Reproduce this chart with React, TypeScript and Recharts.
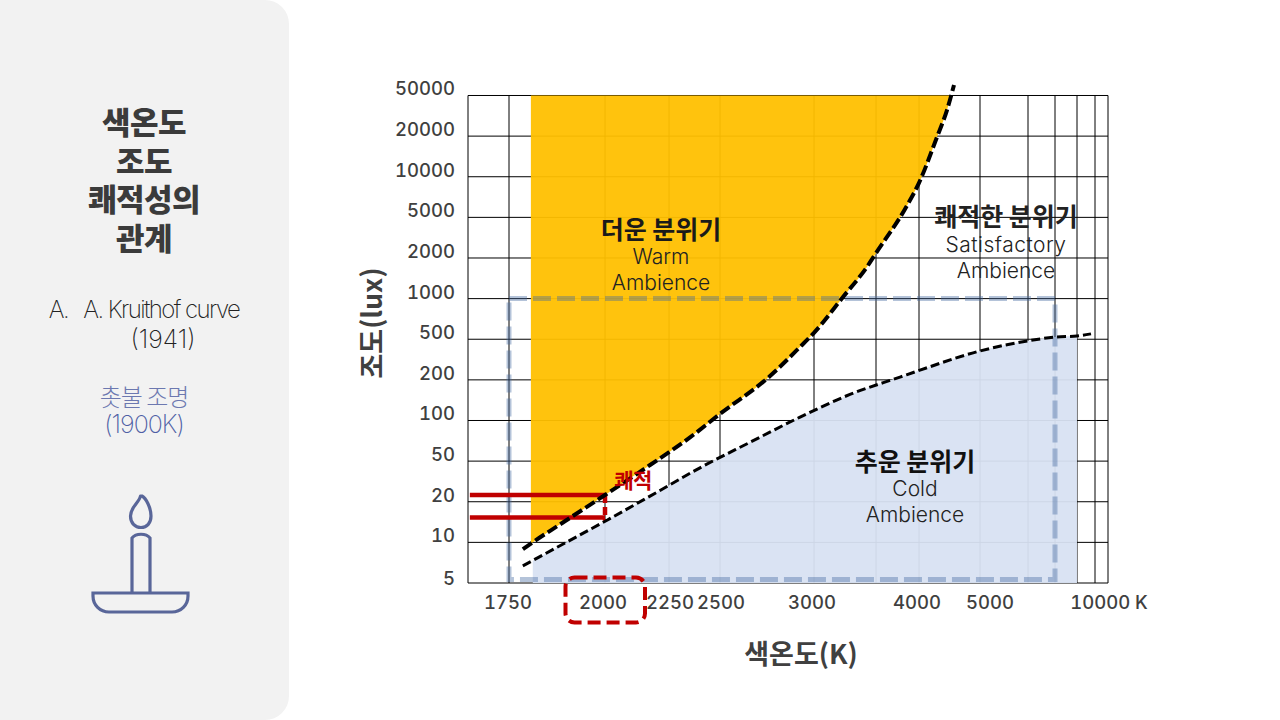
import React from 'react';
import { ComposedChart, Area, Line, XAxis, YAxis, ReferenceLine, ReferenceArea } from 'recharts';

// Axis values as printed /
const gridKelvin = [1640, 1750, 2000, 2250, 2500, 3000, 3500, 4000, 5000, 6000, 7000, 8000, 9000, 10000];
const gridColumns = [0, 41, 137, 201, 252, 346, 408, 451, 512, 560, 587, 609, 627, 640];
const gridLux = [5, 10, 20, 50, 100, 200, 500, 1000, 2000, 5000, 10000, 20000, 50000];
const xTickKelvin = [1750, 2000, 2250, 2500, 3000, 4000, 5000, 10000];
const xTickLabels = ['1750', '2000', '2250', '2500', '3000', '4000', '5000', '10000 K'];
const xTickShift = [-1, -2, 1, 1, -2, -2, 10, 1];

// Kruithof curves
const upperKelvin = [1786, 1807, 1883, 2000, 2176, 2353, 2500, 2766, 2926, 3000, 3234, 3427, 3500, 3860, 4000, 4295, 4459, 4574];
const upperLux = [8.9, 9.8, 13.6, 23.3, 45.8, 75, 112, 218, 421, 558, 1028, 1717, 2232, 6100, 9010, 19700, 36000, 63500];
const lowerKelvin = [1786, 1896, 2008, 2176, 2402, 2660, 2926, 3290, 3779, 4016, 5000, 6000, 7000, 8000, 8778];
const lowerLux = [6.7, 9.9, 14.6, 22.7, 43, 69, 106, 156, 213, 249, 384, 482, 519, 528, 548];

// Shaded regions
const warmKelvin = [1807, 1883, 2000, 2176, 2353, 2500, 2766, 2926, 3000, 3234, 3427, 3500, 3860, 4000, 4295, 4459, 4525];
const warmLux = [9.8, 13.6, 23.3, 45.8, 75, 112, 218, 421, 558, 1028, 1717, 2232, 6100, 9010, 19700, 36000, 50000];
const coldKelvin = [1812, 1896, 2008, 2176, 2402, 2660, 2926, 3290, 3779, 4016, 5000, 6000, 7000, 8000];
const coldLux = [7.3, 9.9, 14.6, 22.7, 43, 69, 106, 156, 213, 249, 384, 482, 519, 528];

// Annotations
const comfortBox = { k1: 1750, k2: 7000, lux1: 5.3, lux2: 1000 };
const redLux = [23.3, 15.3];
const redFromKelvin = 1645;
const redToKelvin = 2000;

const toX = (k: number) => {
  for (let i = 1; i < gridKelvin.length; i++) {
    if (k <= gridKelvin[i]) {
      const t = (k - gridKelvin[i - 1]) / (gridKelvin[i] - gridKelvin[i - 1]);
      return gridColumns[i - 1] + t * (gridColumns[i] - gridColumns[i - 1]);
    }
  }
  return gridColumns[gridColumns.length - 1];
};
const toY = (lux: number) => {
  const n = gridLux.length;
  for (let i = 1; i < n; i++) {
    if (lux <= gridLux[i] || i === n - 1) {
      return i - 1 + Math.log(lux / gridLux[i - 1]) / Math.log(gridLux[i] / gridLux[i - 1]);
    }
  }
  return n - 1;
};

const topRow = gridLux.length - 1;
const X_MAX = gridColumns[gridColumns.length - 1];
const Y_MAX = 12.3815;

const upperData = upperKelvin.map((k, i) => ({ x: toX(k), y: toY(upperLux[i]) }));
const lowerData = lowerKelvin.map((k, i) => ({ x: toX(k), y: toY(lowerLux[i]) }));
const warmData = warmKelvin.map((k, i) => ({ x: toX(k), band: [toY(warmLux[i]), topRow] }));
const coldData = coldKelvin.map((k, i) => ({ x: toX(k), band: [0, toY(coldLux[i])] }));

const AXIS_FONT = "Inter, 'Noto Sans', sans-serif";
const KR = "'Noto Sans CJK KR', sans-serif";
const LATIN = "Inter, 'Noto Sans', sans-serif";
const AXIS_COLOR = '#404040';

const XTick = ({ x, y, index }: any) => (
  <text x={x + xTickShift[index]} y={y + 11} textAnchor="middle" dominantBaseline="central" style={{ fontVariantNumeric: 'tabular-nums' }}
    fontFamily={AXIS_FONT} fontWeight={500} fontSize={18.5} fill={AXIS_COLOR}>{xTickLabels[index]}</text>
);
const YTick = ({ x, y, index }: any) => (
  <text x={455} y={y - (index === 0 ? 5 : 7)} textAnchor="end" dominantBaseline="central" style={{ fontVariantNumeric: 'tabular-nums' }}
    fontFamily={AXIS_FONT} fontWeight={500} fontSize={18.5} fill={AXIS_COLOR}>{gridLux[index]}</text>
);
const XTitle = () => (
  <text x={801} y={652} textAnchor="middle" dominantBaseline="central" fontFamily={KR} fontWeight={700} fontSize={27} fill={AXIS_COLOR}>색온도(K)</text>
);
const YTitle = () => (
  <text x={370} y={323} transform="rotate(-90 370 323)" textAnchor="middle" dominantBaseline="central" fontFamily={KR} fontWeight={700} fontSize={27} fill={AXIS_COLOR}>조도(lux)</text>
);

const T = ({ x, y, size, weight, color, font, ls, children }: any) => (
  <div style={{ position: 'absolute', left: x, top: y, transform: 'translate(-50%,-50%)', whiteSpace: 'pre', fontSize: size, fontWeight: weight, color, fontFamily: font, letterSpacing: ls, lineHeight: 1 }}>{children}</div>
);

const RED = '#C00000';
const LINE_BLUE = '#596699';

export default function App() {
  return (
    <div style={{ position: 'absolute', left: 0, top: 0, width: 1280, height: 720, background: '#fff', overflow: 'hidden' }}>
      <div style={{ position: 'absolute', left: -30, top: 0, width: 319, height: 720, background: '#F2F2F2', borderRadius: 24 }} />
      <T x={144} y={120} size={31} weight={900} color="#3B3B3B" font={KR} ls={-0.5}>색온도</T>
      <T x={144} y={159} size={31} weight={900} color="#3B3B3B" font={KR} ls={-0.5}>조도</T>
      <T x={144} y={197} size={31} weight={900} color="#3B3B3B" font={KR} ls={-0.5}>쾌적성의</T>
      <T x={144} y={236} size={31} weight={900} color="#3B3B3B" font={KR} ls={-0.5}>관계</T>
      <T x={144} y={310} size={24} weight={200} color="#222" font={LATIN} ls={-1.6}>{'A.   A. Kruithof curve'}</T>
      <T x={163} y={339} size={25} weight={200} color="#222" font={LATIN} ls={0}>(1941)</T>
      <T x={144} y={396} size={24} weight={300} color="#6C78B0" font={KR} ls={-1}>촛불 조명</T>
      <T x={144} y={424} size={25} weight={200} color="#4F5FA5" font={LATIN} ls={-1}>(1900K)</T>
      <svg width={1280} height={720} style={{ position: 'absolute', left: 0, top: 0 }}>
        <g fill="none" stroke={LINE_BLUE} strokeWidth={3.2}>
          <path d="M140.5 496 C139 503 130.5 507 130.5 516 C130.5 523 135 527.5 141 527.5 C147 527.5 151 523 151 516 C151 508 146 498 142 496 Z" strokeLinejoin="round" />
          <path d="M132 592 V538 C136 533 146 533 150 538 V592" />
          <path d="M93 593 H188 V596 C188 605 181 612 172 612 H109 C100 612 93 605 93 596 Z" />
        </g>
      </svg>

      <div style={{ position: 'absolute', left: 0, top: 0 }}>
        <ComposedChart width={1280} height={720} margin={{ top: 80, right: 172, bottom: 0, left: 0 }} data={upperData}>
          <XAxis type="number" dataKey="x" domain={[0, X_MAX]} ticks={xTickKelvin.map(toX)} interval={0} height={137}
            axisLine={false} tickLine={false} tick={<XTick />} label={<XTitle />} />
          <YAxis type="number" domain={[0, Y_MAX]} ticks={gridLux.map((_, i) => i)} interval={0} width={468}
            axisLine={false} tickLine={false} tick={<YTick />} label={<YTitle />} />
          {gridKelvin.map((k) => (
            <ReferenceLine key={'v' + k} zIndex={-100} segment={[{ x: toX(k), y: 0 }, { x: toX(k), y: topRow }]} stroke="#000" strokeWidth={1} />
          ))}
          {gridLux.map((l, i) => (
            <ReferenceLine key={'h' + l} zIndex={-100} segment={[{ x: 0, y: i }, { x: X_MAX, y: i }]} stroke="#000" strokeWidth={1} />
          ))}
          <Area data={warmData} dataKey="band" type="monotone" stroke="none" fill="#FFC000" fillOpacity={0.95} isAnimationActive={false} />
          <Area data={coldData} dataKey="band" type="monotone" stroke="none" fill="#D8E1F2" fillOpacity={0.95} isAnimationActive={false} />
          {redLux.map((l) => (
            <ReferenceLine key={'r' + l} segment={[{ x: toX(redFromKelvin), y: toY(l) }, { x: toX(redToKelvin), y: toY(l) }]} stroke={RED} strokeWidth={4.5} />
          ))}
          <ReferenceLine segment={[{ x: toX(redToKelvin), y: toY(redLux[0]) }, { x: toX(redToKelvin), y: toY(redLux[1]) - 0.08 }]} stroke={RED} strokeWidth={4.5} strokeDasharray="8 4" />
          <ReferenceArea x1={toX(comfortBox.k1)} x2={toX(comfortBox.k2)} y1={toY(comfortBox.lux1)} y2={toY(comfortBox.lux2)}
            fill="none" stroke="#44699F" strokeOpacity={0.4} strokeWidth={5} strokeDasharray="18 6" ifOverflow="visible" />
          <Line data={upperData} dataKey="y" type="monotone" stroke="#000" strokeWidth={4} strokeDasharray="11 4" dot={false} activeDot={false} isAnimationActive={false} />
          <Line data={lowerData} dataKey="y" type="monotone" stroke="#000" strokeWidth={3} strokeDasharray="9 4" dot={false} activeDot={false} isAnimationActive={false} />
        </ComposedChart>
      </div>

      <T x={661} y={228} size={25} weight={700} color="#1A1A1A" font={KR} ls={0}>더운 분위기</T>
      <T x={661} y={256} size={21} weight={300} color="#222" font={LATIN}>Warm</T>
      <T x={661} y={282} size={21} weight={300} color="#222" font={LATIN}>Ambience</T>
      <T x={1006} y={215} size={25} weight={700} color="#222" font={KR} ls={0}>쾌적한 분위기</T>
      <T x={1006} y={244} size={21} weight={300} color="#222" font={LATIN} ls={0.5}>Satisfactory</T>
      <T x={1006} y={270} size={21} weight={300} color="#222" font={LATIN}>Ambience</T>
      <T x={915} y={460} size={25} weight={700} color="#111" font={KR} ls={0}>추운 분위기</T>
      <T x={915} y={488} size={21} weight={300} color="#222" font={LATIN}>Cold</T>
      <T x={915} y={514} size={21} weight={300} color="#222" font={LATIN}>Ambience</T>
      <T x={633} y={479} size={21} weight={700} color={RED} font={KR} ls={-0.5}>쾌적</T>
      <svg width={1280} height={720} style={{ position: 'absolute', left: 0, top: 0, pointerEvents: 'none' }}>
        <rect x={565.5} y={577.5} width={79.5} height={45} rx={9} fill="none" stroke={RED} strokeWidth={4} strokeDasharray="13 6" />
      </svg>
    </div>
  );
}
